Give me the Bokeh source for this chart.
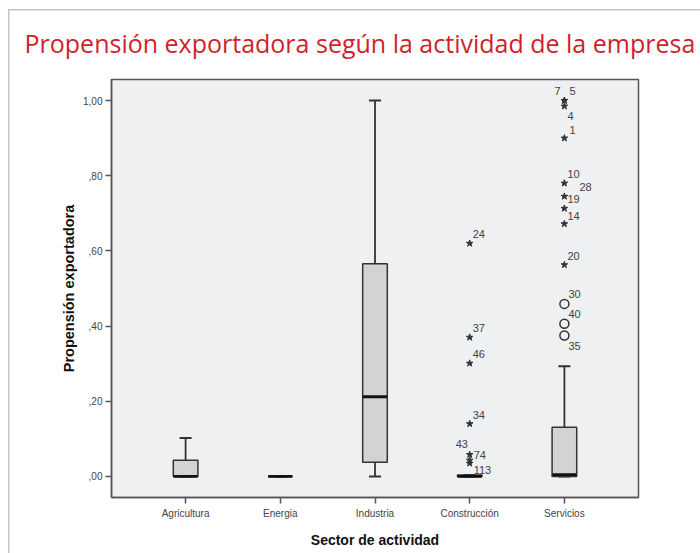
from bokeh.plotting import figure
from bokeh.models import ColumnDataSource, FactorRange, Range1d, FixedTicker
from bokeh.embed import file_html
from bokeh.resources import INLINE

# ---------------- data ----------------
categories = ["Agricultura", "Energia", "Industria", "Construcción", "Servicios"]
q1 = [0.0, 0.0, 0.038, 0.0, 0.0]
median = [0.0, 0.0, 0.212, 0.0, 0.005]
q3 = [0.043, 0.0, 0.566, 0.004, 0.131]
lower = [0.0, 0.0, 0.0, 0.0, 0.0]
upper = [0.102, 0.0, 1.0, 0.004, 0.293]

# extreme outliers (stars)
star_cat = ["Construcción"] * 7 + ["Servicios"] * 9
star_val = [0.62, 0.370, 0.301, 0.140, 0.058, 0.043, 0.035,
            1.0, 1.0, 0.985, 0.900, 0.780, 0.745, 0.713, 0.672, 0.563]
star_id = ["24", "37", "46", "34", "74", "43", "113",
           "7", "5", "4", "1", "10", "28", "19", "14", "20"]

# mild outliers (circles)
circ_cat = ["Servicios"] * 3
circ_val = [0.459, 0.406, 0.375]
circ_id = ["30", "40", "35"]

y_ticks = [0, 0.2, 0.4, 0.6, 0.8, 1.0]
y_tick_labels = [",00", ",20", ",40", ",60", ",80", "1,00"]

# label placement (pixels, relative to the marker)
star_dx = [3, 3, 3, 3, 4, -14, 4, -10, 5, 3, 5, 3, 15, 3, 3, 3]
star_dy = [-9, -9, -9, -9, 0, -16, 7, -10, -10, 10, -8, -9, -9, -9, -8, -9]
circ_dx = [4, 4, 4]
circ_dy = [-10, -10, 11]

# ---------------- figure ----------------
p = figure(width=700, height=553,
           x_range=FactorRange(factors=categories, range_padding=0.113),
           y_range=Range1d(-0.056, 1.056),
           output_backend="svg", toolbar_location=None,
           min_border_left=111, min_border_right=62,
           min_border_top=79, min_border_bottom=56)

p.title.text = "Propensión exportadora según la actividad de la empresa"
p.title.text_font = "Open Sans"
p.title.text_font_size = "25px"
p.title.text_font_style = "normal"
p.title.text_color = "#cf1f2d"
p.title.align = "left"
p.title.vertical_align = "bottom"
p.title.offset = -87
p.title.standoff = 40

p.background_fill_color = "#eff0f2"
p.border_fill_color = None
p.styles = {
    "background": "linear-gradient(#c4c4c4,#c4c4c4) 8px 9px / 100% 1.5px no-repeat, "
                  "linear-gradient(#c4c4c4,#c4c4c4) 8px 9px / 1.5px 100% no-repeat, white"
}
p.outline_line_color = "#555555"
p.outline_line_width = 1.5
p.xgrid.visible = False
p.ygrid.visible = False

dark = "#333333"

box_src = ColumnDataSource(dict(cat=categories, q1=q1, q3=q3, med=median,
                                lo=lower, hi=upper))
# whiskers
p.segment(x0="cat", y0="q3", x1="cat", y1="hi", source=box_src,
          line_color=dark, line_width=1.8)
p.segment(x0="cat", y0="q1", x1="cat", y1="lo", source=box_src,
          line_color=dark, line_width=1.8)
p.scatter(x="cat", y="hi", source=box_src, marker="dash", size=12,
          line_color=dark, line_width=2)
p.scatter(x="cat", y="lo", source=box_src, marker="dash", size=12,
          line_color=dark, line_width=2)
# boxes
p.vbar(x="cat", bottom="q1", top="q3", width=0.26, source=box_src,
       fill_color="#d3d3d3", line_color=dark, line_width=1.5)
# medians
p.scatter(x="cat", y="med", source=box_src, marker="dash", size=24,
          line_color="#111111", line_width=2.8)

# outliers
star_src = ColumnDataSource(dict(cat=star_cat, val=star_val, lab=star_id,
                                 dx=star_dx, dy=star_dy))
p.scatter(x="cat", y="val", source=star_src, marker="star", size=7,
          fill_color=dark, line_color=dark)
p.text(x="cat", y="val", text="lab", x_offset="dx", y_offset="dy",
       source=star_src, text_font_size="11px", text_color="#444444",
       text_align="left", text_baseline="middle")

circ_src = ColumnDataSource(dict(cat=circ_cat, val=circ_val, lab=circ_id,
                                 dx=circ_dx, dy=circ_dy))
p.scatter(x="cat", y="val", source=circ_src, marker="circle", size=9,
          fill_color=None, line_color=dark, line_width=1.5)
p.text(x="cat", y="val", text="lab", x_offset="dx", y_offset="dy",
       source=circ_src, text_font_size="11px", text_color="#444444",
       text_align="left", text_baseline="middle")

# axes
for ax in (p.xaxis[0], p.yaxis[0]):
    ax.axis_line_color = "#555555"
    ax.axis_line_width = 1.5
    ax.major_tick_line_color = "#555555"
    ax.major_tick_line_width = 1.5
    ax.major_tick_in = 0
    ax.major_tick_out = 6
    ax.minor_tick_line_color = None
    ax.major_label_text_font = "Liberation Sans"
    ax.major_label_text_font_size = "10px"
    ax.major_label_text_color = "#444444"
    ax.axis_label_text_font = "Liberation Sans"
    ax.axis_label_text_font_style = "bold"
    ax.axis_label_text_color = "#111111"

p.xaxis.axis_label_text_font_size = "14px"
p.yaxis.axis_label_text_font_size = "14.5px"
p.yaxis.ticker = FixedTicker(ticks=y_ticks)
p.yaxis.major_label_overrides = dict(zip(y_ticks, y_tick_labels))
p.yaxis.major_label_standoff = 3
p.yaxis.axis_label = "Propensión exportadora"
p.yaxis.axis_label_standoff = 3
p.xaxis.major_label_standoff = 4
p.xaxis.axis_label = "Sector de actividad"
p.xaxis.axis_label_standoff = 10

open("out.html", "w").write(file_html(p, INLINE))
